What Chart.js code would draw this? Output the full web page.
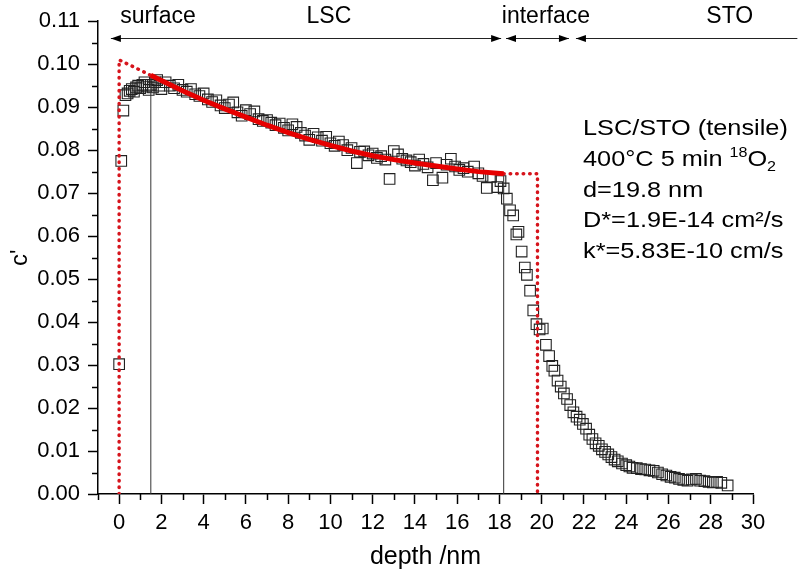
<!DOCTYPE html>
<html>
<head>
<meta charset="utf-8">
<script src="https://cdn.jsdelivr.net/npm/chart.js@4"></script>
<style>
  body { margin: 0; background: #fff; }
  #wrap { width: 800px; height: 576px; position: relative; }
</style>
</head>
<body>
<div id="wrap"><canvas id="myChart"></canvas></div>
<script>
// measured profile (depth in nm, c' = 18O fraction)
const depth = [
  0.00, 0.10, 0.20, 0.30, 0.40, 0.50, 0.60, 0.70, 0.80, 0.90,
  1.00, 1.10, 1.20, 1.30, 1.40, 1.50, 1.60, 1.70, 1.80, 1.90,
  2.00, 2.20, 2.40, 2.60, 2.80, 3.00, 3.20, 3.40, 3.60, 3.80,
  4.00, 4.20, 4.40, 4.60, 4.80, 5.00, 5.20, 5.40, 5.60, 5.80,
  6.00, 6.20, 6.40, 6.60, 6.80, 7.00, 7.20, 7.40, 7.60, 7.80,
  8.00, 8.20, 8.40, 8.60, 8.80, 9.00, 9.20, 9.40, 9.60, 9.80,
  10.00, 10.20, 10.40, 10.60, 10.80, 11.00, 11.25, 11.40, 11.60, 11.80,
  12.00, 12.20, 12.40, 12.60, 12.80, 13.00, 13.20, 13.40, 13.60, 13.80,
  14.00, 14.20, 14.40, 14.60, 14.85, 15.00, 15.30, 15.50, 15.70, 15.90,
  16.10, 16.30, 16.50, 16.80, 17.00, 17.20, 17.40, 17.60, 17.90, 18.05,
  18.20, 18.35, 18.50, 18.65, 18.80, 18.90, 19.05, 19.20, 19.30, 19.45,
  19.60, 19.75, 19.90, 20.05, 20.20, 20.35, 20.50, 20.60, 20.75, 20.90,
  21.05, 21.20, 21.35, 21.50, 21.65, 21.80, 21.95, 22.10, 22.25, 22.40,
  22.55, 22.70, 22.85, 23.00, 23.15, 23.30, 23.45, 23.60, 23.80, 24.00,
  24.15, 24.30, 24.50, 24.70, 24.90, 25.10, 25.30, 25.50, 25.70, 25.90,
  26.10, 26.30, 26.50, 26.70, 26.90, 27.10, 27.30, 27.50, 27.70, 27.90,
  28.10, 28.30, 28.50, 28.80
];
const cPrime = [
  0.0302, 0.0775, 0.0892, 0.0928, 0.0932, 0.0938, 0.0942, 0.0936, 0.0946, 0.0950,
  0.0944, 0.0952, 0.0958, 0.0948, 0.0940, 0.0952, 0.0946, 0.0958, 0.0963, 0.0950,
  0.0942, 0.0958, 0.0950, 0.0944, 0.0952, 0.0940, 0.0936, 0.0942, 0.0930, 0.0926,
  0.0932, 0.0918, 0.0912, 0.0916, 0.0904, 0.0898, 0.0906, 0.0911, 0.0888, 0.0880,
  0.0893, 0.0884, 0.0890, 0.0872, 0.0868, 0.0870, 0.0864, 0.0858, 0.0862, 0.0852,
  0.0846, 0.0860, 0.0854, 0.0840, 0.0834, 0.0824, 0.0838, 0.0830, 0.0822, 0.0831,
  0.0816, 0.0810, 0.0820, 0.0812, 0.0800, 0.0805, 0.0770, 0.0796, 0.0797, 0.0788,
  0.0792, 0.0782, 0.0786, 0.0778, 0.0733, 0.0798, 0.0790, 0.0780, 0.0776, 0.0772,
  0.0764, 0.0778, 0.0768, 0.0760, 0.0730, 0.0770, 0.0736, 0.0766, 0.0780, 0.0762,
  0.0754, 0.0758, 0.0750, 0.0762, 0.0746, 0.0740, 0.0712, 0.0738, 0.0714, 0.0728,
  0.0711, 0.0687, 0.0660, 0.0648, 0.0604, 0.0610, 0.0564, 0.0527, 0.0510, 0.0473,
  0.0427, 0.0395, 0.0383, 0.0385, 0.0347, 0.0321, 0.0298, 0.0287, 0.0264, 0.0250,
  0.0234, 0.0221, 0.0207, 0.0190, 0.0180, 0.0173, 0.0163, 0.0152, 0.0138, 0.0128,
  0.0118, 0.0112, 0.0104, 0.0098, 0.0092, 0.0086, 0.0080, 0.0076, 0.0071, 0.0067,
  0.0064, 0.0061, 0.0060, 0.0058, 0.0057, 0.0055, 0.0054, 0.0050, 0.0046, 0.0043,
  0.0040, 0.0038, 0.0035, 0.0033, 0.0031, 0.0034, 0.0035, 0.0031, 0.0030, 0.0028,
  0.0027, 0.0028, 0.0026, 0.0020
];

// diffusion fit through the LSC layer
const fitDepth = [1.5, 2, 3, 4, 5, 6, 7, 8, 9, 10, 11, 12, 13, 14, 15, 16, 17, 18.2];
const fitC = [0.0974, 0.0962, 0.0938, 0.0916, 0.0896, 0.0877, 0.0858, 0.0841, 0.0825,
  0.0811, 0.0798, 0.0787, 0.0778, 0.0770, 0.0763, 0.0756, 0.0750, 0.0745];

// dotted extrapolation of the fit to the surface and the interface
const surfDepth = [0, 0, 1.5];
const surfC = [0, 0.101, 0.0974];
const ifDepth = [18.2, 19.8, 19.8];
const ifC = [0.0745, 0.0745, 0];

// thin markers at the fit boundaries
const markerDepth = [1.5, 18.2];
const markerTop = [0.0974, 0.0745];

const regionLabels = ["surface", "LSC", "interface", "STO"];
const regionCenters = [1.84, 9.93, 20.2, 28.9];

const infoLines = ["LSC/STO (tensile)", "400°C 5 min ", "d=19.8 nm", "D*=1.9E-14 cm²/s", "k*=5.83E-10 cm/s"];

const FONT = "'Liberation Sans', Arial, sans-serif";
Chart.defaults.font.family = FONT;
Chart.defaults.color = "#000";

function zip(xs, ys) {
  return xs.map((x, i) => ({ x: x, y: ys[i] }));
}
function isMajorY(v) {
  return Math.abs(v * 100 - Math.round(v * 100)) < 1e-6;
}

function arrowHead(ctx, tx, ty, dir) {
  ctx.beginPath();
  ctx.moveTo(tx, ty);
  ctx.lineTo(tx - dir * 10, ty - 3.5);
  ctx.lineTo(tx - dir * 10, ty + 3.5);
  ctx.closePath();
  ctx.fill();
}

const extras = {
  id: "extras",
  afterDraw(chart) {
    const { ctx, scales: { x, y } } = chart;
    ctx.save();
    // minor ticks
    ctx.strokeStyle = "#000";
    ctx.lineWidth = 1.5;
    const bottom = y.getPixelForValue(0);
    const left = x.getPixelForValue(-1);
    for (let v = -1; v <= 30; v += 2) {
      const px = Math.round(x.getPixelForValue(v)) + 0.5;
      ctx.beginPath();
      ctx.moveTo(px, bottom);
      ctx.lineTo(px, bottom + 6);
      ctx.stroke();
    }
    for (let k = 1; k < 22; k += 2) {
      const py = Math.round(y.getPixelForValue(k * 0.005)) + 0.5;
      ctx.beginPath();
      ctx.moveTo(left, py);
      ctx.lineTo(left - 6, py);
      ctx.stroke();
    }

    // region arrows
    const ay = 38.5;
    ctx.strokeStyle = "#222";
    ctx.fillStyle = "#000";
    ctx.lineWidth = 1;
    const segs = [[-0.39, 18.08, true, true], [18.31, 21.29, true, true], [21.62, 32.1, true, false]];
    segs.forEach(([a, b, la, rb]) => {
      const pa = x.getPixelForValue(a), pb = x.getPixelForValue(b);
      ctx.beginPath();
      ctx.moveTo(pa, ay);
      ctx.lineTo(pb, ay);
      ctx.stroke();
      if (la) arrowHead(ctx, pa, ay, -1);
      if (rb) arrowHead(ctx, pb, ay, 1);
    });

    ctx.font = "23px " + FONT;
    ctx.textAlign = "center";
    ctx.textBaseline = "middle";
    regionLabels.forEach((t, i) => {
      ctx.fillText(t, x.getPixelForValue(regionCenters[i]), 17);
    });

    // fit parameters (text in the source is a bit wider than Arial)
    ctx.textAlign = "left";
    ctx.textBaseline = "alphabetic";
    const tx = 583;
    const base = [135, 166, 197, 227, 258];
    infoLines.forEach((t, i) => {
      ctx.save();
      ctx.translate(tx, base[i]);
      ctx.scale(1.15, 1);
      ctx.font = "22px " + FONT;
      ctx.fillText(t, 0, 0);
      if (i === 1) {
        let cx = ctx.measureText(t).width;
        ctx.font = "14px " + FONT;
        ctx.fillText("18", cx, -9);
        cx += ctx.measureText("18").width;
        ctx.font = "22px " + FONT;
        ctx.fillText("O", cx, 0);
        cx += ctx.measureText("O").width;
        ctx.font = "14px " + FONT;
        ctx.fillText("2", cx, 5);
      }
      ctx.restore();
    });
    ctx.restore();
  },
};

const lineBase = { showLine: true, pointRadius: 0, fill: false, tension: 0 };

const ctx = document.getElementById("myChart").getContext("2d");
const myChart = new Chart(ctx, {
  type: "scatter",
  data: {
    datasets: [
      {
        ...lineBase,
        data: zip(fitDepth, fitC),
        borderColor: "#e60000",
        borderWidth: 5,
        order: 0,
      },
      {
        ...lineBase,
        data: zip(surfDepth, surfC),
        borderColor: "#d6141c",
        borderWidth: 3.5,
        borderDash: [0.5, 6],
        borderCapStyle: "round",
        order: 0,
      },
      {
        ...lineBase,
        data: zip(ifDepth, ifC),
        borderColor: "#d6141c",
        borderWidth: 3.5,
        borderDash: [0.5, 6],
        borderCapStyle: "round",
        order: 0,
      },
      {
        ...lineBase,
        data: [{ x: markerDepth[0], y: 0 }, { x: markerDepth[0], y: markerTop[0] }],
        borderColor: "#333",
        borderWidth: 1,
        order: 1,
      },
      {
        ...lineBase,
        data: [{ x: markerDepth[1], y: 0 }, { x: markerDepth[1], y: markerTop[1] }],
        borderColor: "#333",
        borderWidth: 1,
        order: 1,
      },
      {
        data: zip(depth, cPrime),
        pointStyle: "rect",
        pointRadius: 7.5,
        pointBorderWidth: 1.1,
        pointBorderColor: "#222",
        pointBackgroundColor: "rgba(255,255,255,0)",
        order: 2,
      },
    ],
  },
  options: {
    responsive: true,
    maintainAspectRatio: false,
    animation: false,
    events: [],
    layout: { padding: { top: 13, right: 47, left: 0, bottom: 0 } },
    plugins: { legend: { display: false }, tooltip: { enabled: false } },
    scales: {
      x: {
        type: "linear",
        min: -1,
        max: 30,
        afterFit: (s) => { s.height = 82; },
        ticks: {
          stepSize: 1,
          autoSkip: false,
          maxRotation: 0,
          padding: 6,
          font: { size: 22 },
          callback: (v) => (v >= 0 && v % 2 === 0 ? String(v) : ""),
        },
        grid: {
          drawOnChartArea: false,
          tickLength: 10,
          tickWidth: 1.5,
          tickColor: (c) => (c.tick && c.tick.value >= 0 && c.tick.value % 2 === 0 ? "#000" : "rgba(0,0,0,0)"),
        },
        border: { color: "#000", width: 1.5 },
        title: {
          display: true,
          text: "depth /nm",
          font: { size: 25 },
          padding: { top: 0, bottom: 4 },
        },
      },
      y: {
        type: "linear",
        min: 0,
        max: 0.11,
        afterFit: (s) => { s.width = 98; },
        ticks: {
          stepSize: 0.005,
          autoSkip: false,
          padding: 8,
          font: { size: 22 },
          callback: (v) => (isMajorY(v) ? v.toFixed(2) : ""),
        },
        grid: {
          drawOnChartArea: false,
          tickLength: 10,
          tickWidth: 1.5,
          tickColor: (c) => (c.tick && isMajorY(c.tick.value) ? "#000" : "rgba(0,0,0,0)"),
        },
        border: { color: "#000", width: 1.5 },
        title: {
          display: true,
          text: "c'",
          font: { size: 24 },
          padding: { top: 6, bottom: 0 },
        },
      },
    },
  },
  plugins: [extras],
});
</script>
</body>
</html>
